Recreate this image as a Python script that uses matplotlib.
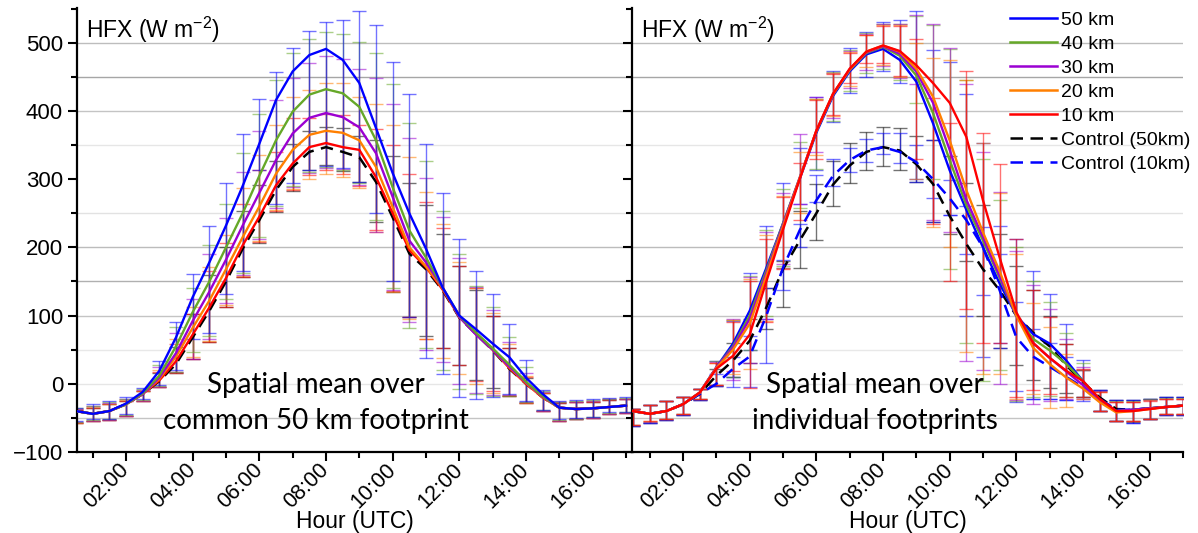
import numpy as np
import matplotlib
matplotlib.use("Agg")
import matplotlib.pyplot as plt
from matplotlib.lines import Line2D

plt.rcParams['font.family'] = ['Liberation Sans', 'DejaVu Sans']
plt.rcParams['mathtext.fontset'] = 'custom'
plt.rcParams['mathtext.rm'] = 'Liberation Sans'
plt.rcParams['mathtext.it'] = 'Liberation Sans'

# ---------------- data ----------------
hours = [0.5, 1.0, 1.5, 2.0, 2.5, 3.0, 3.5, 4.0, 4.5, 5.0, 5.5, 6.0, 6.5, 7.0, 7.5, 8.0, 8.5,
         9.0, 9.5, 10.0, 10.5, 11.0, 11.5, 12.0, 12.5, 13.0, 13.5, 14.0, 14.5, 15.0, 15.5, 16.0, 16.5, 17.0]
xtick_hours = [2, 4, 6, 8, 10, 12, 14, 16]
xtick_labels = ['02:00', '04:00', '06:00', '08:00', '10:00', '12:00', '14:00', '16:00']
ytick_vals = [-100, 0, 100, 200, 300, 400, 500]

series_names = ['50 km', '40 km', '30 km', '20 km', '10 km', 'Control (50km)', 'Control (10km)']

# ---- left panel: spatial mean over common 50 km footprint ----
L_50 = [-40, -44, -40, -29, -12, 19, 68, 127, 178, 232, 290, 352, 416, 458, 482, 491, 475, 441, 375, 309, 250, 198, 141, 100, 80, 59, 39, 9, -15, -35, -37, -36, -34, -32]
L_40 = [-40, -44, -40, -30, -14, 12, 55, 105, 150, 200, 250, 305, 357, 399, 424, 432, 426, 406, 357, 288, 225, 185, 141, 100, 75, 52, 28, 3, -18, -35, -37, -36, -34, -32]
L_30 = [-40, -44, -40, -30, -15, 9, 45, 92, 135, 182, 232, 280, 328, 367, 390, 397, 391, 376, 338, 274, 210, 178, 141, 98, 72, 50, 25, 2, -19, -35, -37, -36, -34, -32]
L_20 = [-40, -44, -40, -30, -15, 7, 40, 82, 122, 168, 215, 260, 308, 343, 365, 371, 368, 357, 318, 259, 200, 172, 140, 98, 73, 50, 24, 1, -20, -35, -37, -36, -34, -32]
L_10 = [-40, -44, -40, -30, -15, 5, 33, 72, 112, 155, 203, 245, 291, 323, 347, 353, 347, 343, 303, 250, 196, 171, 138, 98, 74, 50, 23, 0, -20, -35, -37, -36, -34, -32]
L_C50 = [-40, -44, -40, -30, -15, 4, 29, 68, 107, 150, 198, 240, 284, 318, 340, 347, 340, 332, 296, 244, 191, 168, 137, 97, 73, 49, 22, 0, -20, -35, -37, -36, -34, -32]

L_50_hi = [-35, -30, -25, -20, -6, 34, 91, 161, 231, 295, 366, 417, 457, 493, 517, 530, 533, 546, 526, 472, 425, 352, 280, 212, 165, 132, 87, 35, -9, -25, -24, -23, -21, -20]
L_40_hi = [-36, -32, -27, -22, -8, 28, 83, 141, 203, 264, 338, 396, 446, 485, 505, 516, 513, 501, 485, 440, 383, 326, 253, 190, 143, 113, 69, 25, -11, -26, -25, -24, -22, -21]
L_30_hi = [-37, -33, -28, -23, -9, 24, 74, 125, 190, 243, 311, 370, 416, 449, 470, 480, 476, 462, 448, 410, 360, 302, 244, 185, 142, 108, 62, 16, -12, -27, -26, -25, -23, -22]
L_20_hi = [-37, -34, -29, -24, -10, 20, 66, 112, 171, 218, 287, 336, 379, 421, 431, 441, 441, 420, 410, 380, 333, 281, 234, 178, 140, 104, 58, 12, -13, -27, -26, -25, -23, -22]
L_10_hi = [-38, -35, -30, -25, -11, 18, 59, 103, 165, 207, 264, 313, 340, 390, 389, 395, 394, 380, 374, 350, 307, 266, 228, 172, 140, 100, 53, 10, -14, -28, -27, -26, -24, -23]
L_C50_hi = [-38, -35, -30, -25, -11, 16, 54, 103, 160, 200, 254, 292, 326, 352, 370, 377, 375, 363, 357, 334, 295, 262, 220, 172, 138, 100, 53, 8, -14, -28, -27, -26, -24, -23]

L_50_lo = [-55, -52, -51, -45, -23, -2, 20, 66, 75, 132, 166, 313, 264, 294, 313, 320, 316, 296, 250, 151, 98, 38, 15, -19, -22, -20, -15, -25, -38, -52, -50, -48, -42, -41]
L_40_lo = [-56, -53, -52, -46, -24, -3, 18, 46, 70, 125, 163, 215, 260, 290, 310, 318, 314, 294, 240, 140, 82, 53, 20, -8, -15, -18, -18, -27, -39, -53, -51, -49, -43, -42]
L_30_lo = [-56, -54, -53, -47, -25, -4, 17, 37, 65, 118, 160, 212, 258, 288, 309, 317, 315, 292, 222, 138, 90, 50, 32, 0, -13, -16, -17, -27, -40, -54, -52, -50, -44, -43]
L_20_lo = [-57, -54, -53, -47, -25, -4, 17, 40, 63, 115, 158, 210, 255, 285, 301, 308, 303, 287, 222, 135, 95, 65, 38, 15, 0, -14, -16, -28, -40, -54, -52, -50, -44, -43]
L_10_lo = [-57, -54, -53, -47, -25, -4, 16, 37, 62, 112, 157, 208, 253, 284, 306, 313, 307, 290, 226, 136, 98, 65, 52, 28, 4, -10, -18, -28, -40, -54, -52, -50, -44, -43]
L_C50_lo = [-57, -55, -53, -47, -25, -4, 16, 37, 62, 112, 157, 207, 252, 282, 313, 321, 312, 296, 237, 134, 98, 70, 52, 28, 6, -6, -18, -28, -40, -54, -52, -50, -44, -43]

# ---- right panel: spatial mean over individual footprints ----
R_50 = [-40, -44, -40, -30, -13, 24, 59, 107, 170, 235, 300, 368, 422, 458, 483, 491, 475, 443, 382, 313, 255, 200, 147, 100, 73, 59, 34, 4, -25, -40, -38, -36, -34, -32]
R_40 = [-40, -44, -40, -30, -13, 24, 55, 100, 166, 235, 302, 370, 424, 460, 485, 494, 481, 452, 397, 328, 262, 210, 155, 100, 66, 49, 29, 4, -25, -40, -38, -36, -34, -32]
R_30 = [-40, -44, -40, -30, -13, 24, 53, 95, 162, 233, 302, 371, 425, 461, 486, 495, 484, 458, 412, 343, 270, 215, 158, 100, 60, 38, 18, -2, -25, -40, -38, -36, -34, -32]
R_20 = [-40, -44, -40, -30, -13, 23, 50, 88, 158, 230, 301, 371, 425, 461, 487, 496, 487, 462, 421, 357, 284, 222, 165, 100, 53, 29, 9, -7, -27, -42, -40, -37, -34, -32]
R_10 = [-40, -44, -40, -30, -13, 22, 41, 72, 150, 226, 300, 371, 425, 462, 487, 496, 488, 467, 441, 412, 362, 269, 185, 105, 60, 38, 19, 4, -22, -40, -40, -37, -34, -32]
R_C50 = [-40, -44, -40, -30, -15, 12, 34, 63, 112, 168, 210, 250, 292, 320, 340, 347, 342, 322, 293, 246, 205, 168, 137, 100, 75, 55, 27, 2, -20, -37, -38, -36, -34, -32]
R_C10 = [-40, -44, -40, -30, -15, 0, 22, 40, 100, 170, 225, 269, 305, 328, 342, 347, 340, 325, 300, 272, 240, 200, 137, 68, 40, 25, 10, -5, -22, -38, -38, -36, -34, -32]

R_50_hi = [-37, -31, -25, -19, -7, 34, 92, 162, 231, 295, 345, 421, 459, 493, 516, 530, 533, 546, 490, 472, 425, 353, 231, 212, 166, 132, 87, 35, -9, -24, -24, -22, -20, -20]
R_40_hi = [-37, -31, -25, -19, -7, 33, 94, 158, 225, 285, 355, 418, 457, 490, 514, 528, 528, 540, 526, 491, 445, 330, 270, 200, 150, 120, 75, 30, -10, -25, -25, -23, -21, -21]
R_30_hi = [-37, -31, -25, -19, -7, 32, 95, 156, 222, 280, 366, 420, 456, 488, 513, 527, 527, 541, 527, 493, 440, 340, 281, 195, 145, 110, 65, 25, -11, -26, -26, -24, -22, -22]
R_20_hi = [-37, -31, -25, -19, -7, 31, 93, 154, 218, 276, 340, 417, 455, 486, 512, 526, 526, 500, 477, 475, 446, 353, 280, 190, 118, 83, 44, 20, -12, -26, -26, -24, -22, -22]
R_10_hi = [-37, -31, -25, -19, -7, 30, 90, 150, 212, 274, 324, 416, 454, 485, 511, 524, 524, 505, 419, 383, 459, 367, 323, 212, 137, 98, 59, 22, -12, -27, -27, -25, -23, -23]
R_C50_hi = [-37, -31, -25, -19, -7, 22, 60, 95, 140, 180, 254, 293, 326, 353, 369, 377, 375, 363, 357, 334, 294, 262, 220, 173, 138, 100, 59, 20, -9, -24, -24, -22, -20, -20]
R_C10_hi = [-37, -31, -25, -19, -7, 15, 40, 70, 140, 181, 235, 306, 330, 345, 359, 367, 367, 350, 357, 299, 260, 230, 190, 120, 80, 60, 40, 20, -9, -24, -24, -22, -20, -20]

R_50_lo = [-62, -57, -53, -46, -24, -3, 10, 50, 95, 170, 264, 313, 384, 426, 450, 458, 441, 296, 237, 247, 100, 40, 53, -27, -22, -22, -24, -20, -40, -54, -58, -52, -46, -46]
R_40_lo = [-61, -56, -52, -45, -23, -2, 10, 50, 100, 172, 258, 315, 386, 430, 455, 462, 445, 412, 300, 169, 60, 4, 20, -25, -20, -18, -20, -20, -40, -54, -55, -51, -45, -45]
R_30_lo = [-61, -56, -52, -45, -23, -2, 5, 30, 95, 175, 264, 340, 390, 434, 460, 466, 448, 440, 240, 222, 34, 20, 0, -24, -29, -25, -22, -22, -40, -54, -55, -51, -45, -45]
R_20_lo = [-60, -55, -51, -44, -22, -2, 15, 22, 92, 170, 250, 335, 392, 437, 465, 468, 450, 300, 230, 200, 46, 14, 14, -22, -15, -35, -34, -22, -40, -54, -55, -51, -45, -45]
R_10_lo = [-60, -55, -51, -44, -22, -2, 19, -6, 90, 168, 240, 330, 394, 441, 470, 470, 452, 330, 235, 150, 110, 60, 60, -20, -9, -15, -20, -20, -40, -54, -55, -51, -45, -45]
R_C50_lo = [-62, -57, -53, -46, -24, -3, 10, 30, 80, 112, 170, 211, 261, 294, 313, 320, 313, 296, 237, 220, 180, 100, 53, 28, 6, -6, -13, -20, -40, -54, -56, -52, -46, -46]
R_C10_lo = [-62, -57, -53, -46, -24, -3, -5, -5, 30, 137, 200, 267, 290, 310, 325, 337, 324, 300, 272, 247, 190, 130, 60, -10, -22, -22, -24, -25, -40, -54, -58, -52, -46, -46]

# ---------------- styles ----------------
colors = ['#0000ff', '#66a828', '#9b00d2', '#ff7f00', '#ff0000', '#000000', '#0000ff']
styles = ['-', '-', '-', '-', '-', '--', '--']

grid_levels = [500, 450, 400, 350, 250, 200, 150, 100, 50, 0, -50]
grid_colors = ['#bdbdbd', '#a6a6a6', '#c4c4c4', '#e6e6e6', '#e2e2e2', '#bcbcbc', '#b0b0b0',
               '#c4c4c4', '#e8e8e8', '#e6e6e6', '#c4c4c4']

fig = plt.figure(figsize=(11.98, 5.33), dpi=100)
axL = fig.add_axes([77 / 1198, 1 - 452 / 533, 556 / 1198, 444 / 533])
axR = fig.add_axes([632 / 1198, 1 - 452 / 533, 551 / 1198, 444 / 533])

left_lines = [L_50, L_40, L_30, L_20, L_10, L_C50]
left_hi = [L_50_hi, L_40_hi, L_30_hi, L_20_hi, L_10_hi, L_C50_hi]
left_lo = [L_50_lo, L_40_lo, L_30_lo, L_20_lo, L_10_lo, L_C50_lo]
right_lines = [R_50, R_40, R_30, R_20, R_10, R_C50, R_C10]
right_hi = [R_50_hi, R_40_hi, R_30_hi, R_20_hi, R_10_hi, R_C50_hi, R_C10_hi]
right_lo = [R_50_lo, R_40_lo, R_30_lo, R_20_lo, R_10_lo, R_C50_lo, R_C10_lo]


def draw_panel(ax, lines, his, los, order, xlim, annot, annot_x):
    for lev, gc in zip(grid_levels, grid_colors):
        ax.axhline(lev, color=gc, lw=1.0, zorder=0)
    x = np.array(hours)
    for i in order:
        hi = np.array(his[i], float)
        lo = np.array(los[i], float)
        mid = (hi + lo) / 2
        ax.errorbar(x, mid, yerr=(hi - lo) / 2, fmt='none', ecolor=colors[i],
                    elinewidth=1.0, capsize=5, capthick=1.0, alpha=0.55, zorder=2)
    for i in order:
        if styles[i] == '--':
            ax.plot(x, lines[i], color=colors[i], lw=1.8, dashes=(5, 3), zorder=3)
        else:
            ax.plot(x, lines[i], color=colors[i], lw=1.7, zorder=3)
    ax.set_xlim(*xlim)
    ax.set_ylim(-100, 551)
    ax.set_xticks(xtick_hours)
    ax.set_xticklabels(xtick_labels, rotation=45, ha='right', va='center',
                       rotation_mode='anchor', fontsize=15.5)
    ax.set_xticks([1, 3, 5, 7, 9, 11, 13, 15, 17], minor=True)
    ax.set_yticks(ytick_vals)
    ax.set_yticks([-50, 50, 150, 250, 350, 450, 550], minor=True)
    ax.tick_params(axis='y', which='major', labelsize=16)
    ax.tick_params(axis='both', which='major', length=6.5, width=1.5)
    ax.tick_params(axis='both', which='minor', length=4, width=1.5)
    ax.tick_params(axis='x', which='major', pad=4)
    for s in ['top', 'right']:
        ax.spines[s].set_visible(False)
    for s in ['left', 'bottom']:
        ax.spines[s].set_linewidth(1.6)
    ax.set_xlabel('Hour (UTC)', fontsize=16.5, labelpad=-2)
    ax.text(0.016, 0.932, r'HFX (W m$^{\mathrm{-2}}$)', transform=ax.transAxes,
            fontsize=16.5, ha='left', va='baseline', zorder=5)
    ax.text(annot_x, -13, annot[0], fontsize=20, family='Lato', ha='center', va='baseline', zorder=5)
    ax.text(annot_x, -66, annot[1], fontsize=20, family='Lato', ha='center', va='baseline', zorder=5)


draw_panel(axL, left_lines, left_hi, left_lo, [5, 4, 3, 2, 1, 0], (0.53, 17.21),
           ['Spatial mean over', 'common 50 km footprint'], 7.7)
draw_panel(axR, right_lines, right_hi, right_lo, [5, 6, 0, 1, 2, 3, 4], (0.47, 17.0),
           ['Spatial mean over', 'individual footprints'], 7.76)
axR.set_yticklabels([])

handles = []
for i in range(7):
    if styles[i] == '--':
        handles.append(Line2D([], [], color=colors[i], lw=1.8, dashes=(5, 3)))
    else:
        handles.append(Line2D([], [], color=colors[i], lw=1.8))
axR.legend(handles, series_names, loc='upper left', bbox_to_anchor=(0.686, 0.993),
           frameon=False, fontsize=14, borderpad=0, borderaxespad=0,
           handlelength=2.4, handletextpad=0.2, labelspacing=0.33)

fig.savefig('out.png', dpi=100)
